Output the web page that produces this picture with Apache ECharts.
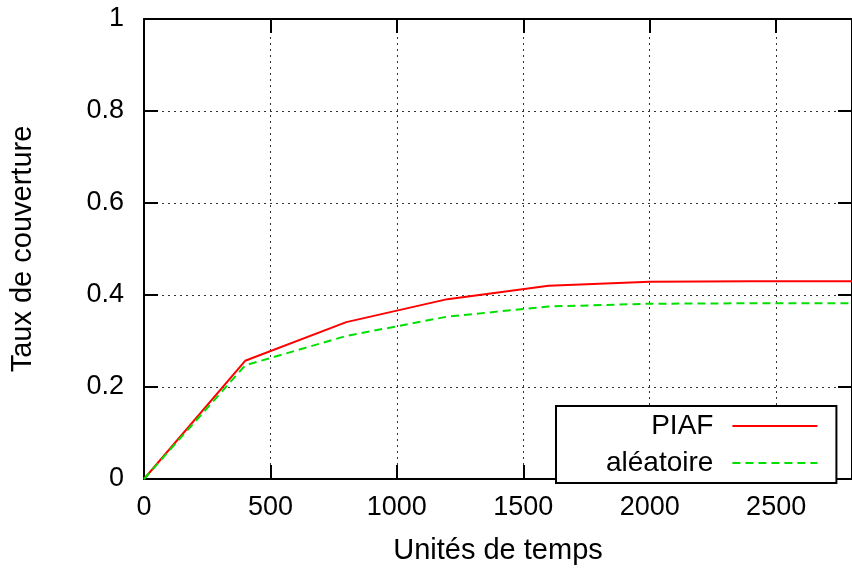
<!DOCTYPE html>
<html>
<head>
<meta charset="utf-8">
<script src="https://cdn.jsdelivr.net/npm/echarts@6/dist/echarts.min.js"></script>
<style>
  html, body { margin: 0; padding: 0; background: #fff; }
  #main { width: 852px; height: 569px; }
</style>
</head>
<body>
<div id="main"></div>
<script>
// temps (unités) et taux de couverture
var temps = [0, 400, 800, 1200, 1600, 2000, 2400, 2800];
var piaf = [0, 0.257, 0.341, 0.391, 0.420, 0.429, 0.430, 0.430];
var aleatoire = [0, 0.247, 0.311, 0.353, 0.375, 0.381, 0.382, 0.382];
var seriesNames = ['PIAF', 'aléatoire'];

function pairs(xs, ys) {
    return xs.map(function (x, i) { return [x, ys[i]]; });
}

var font = 'Liberation Sans, Arial, sans-serif';
var gridLine = { show: true, lineStyle: { color: '#333', type: [2, 4], width: 1 } };

var myChart = echarts.init(document.getElementById('main'));
var option = {
    animation: false,
    backgroundColor: '#fff',
    textStyle: { fontFamily: font },
    grid: { left: 144, right: 0, top: 19, bottom: 90, outerBoundsMode: 'none', containLabel: false },
    legend: {
        data: seriesNames,
        orient: 'vertical',
        align: 'right',
        left: 556,
        top: 406,
        itemWidth: 85,
        itemHeight: 14,
        itemGap: 9,
        padding: [6, 18, 6, 50],
        borderColor: '#000',
        borderWidth: 2,
        backgroundColor: '#fff',
        selectedMode: false,
        itemStyle: { opacity: 0 },
        textStyle: { fontSize: 28, color: '#000', lineHeight: 20, padding: [0, 14, 0, 0], fontFamily: font }
    },
    xAxis: [{
        type: 'value',
        min: 0,
        max: 2800,
        interval: 500,
        name: 'Unités de temps',
        nameLocation: 'middle',
        nameGap: 57,
        nameTextStyle: { fontSize: 29, color: '#000', fontFamily: font },
        axisLine: { show: true, onZero: false, lineStyle: { color: '#000', width: 2 } },
        axisTick: { show: true, inside: true, length: 14, lineStyle: { color: '#000', width: 2 } },
        axisLabel: { fontSize: 27, color: '#000', margin: 15, showMaxLabel: false,
            formatter: function (v) { return String(v); } },
        splitLine: gridLine
    }, {
        type: 'value',
        position: 'top',
        min: 0,
        max: 2800,
        interval: 500,
        axisLine: { show: true, onZero: false, lineStyle: { color: '#000', width: 2 } },
        axisTick: { show: true, inside: true, length: 14, lineStyle: { color: '#000', width: 2 } },
        axisLabel: { show: false },
        splitLine: { show: false }
    }],
    yAxis: [{
        type: 'value',
        min: 0,
        max: 1,
        interval: 0.2,
        name: 'Taux de couverture',
        nameLocation: 'middle',
        nameGap: 107,
        nameTextStyle: { fontSize: 29, color: '#000', fontFamily: font },
        axisLine: { show: true, onZero: false, lineStyle: { color: '#000', width: 2 } },
        axisTick: { show: true, inside: true, length: 14, lineStyle: { color: '#000', width: 2 } },
        axisLabel: { fontSize: 27, color: '#000', margin: 20 },
        splitLine: gridLine
    }, {
        type: 'value',
        position: 'right',
        min: 0,
        max: 1,
        interval: 0.2,
        axisLine: { show: true, onZero: false, lineStyle: { color: '#000', width: 2 } },
        axisTick: { show: true, inside: true, length: 14, lineStyle: { color: '#000', width: 2 } },
        axisLabel: { show: false },
        splitLine: { show: false }
    }],
    series: [
        {
            name: seriesNames[0],
            type: 'line',
            symbol: 'none',
            data: pairs(temps, piaf),
            lineStyle: { color: '#ff0000', width: 2 },
            itemStyle: { color: '#ff0000' }
        },
        {
            name: seriesNames[1],
            type: 'line',
            symbol: 'none',
            data: pairs(temps, aleatoire),
            lineStyle: { color: '#00e000', width: 2, type: [8, 5] },
            itemStyle: { color: '#00e000' }
        }
    ]
};
myChart.setOption(option);
</script>
</body>
</html>
